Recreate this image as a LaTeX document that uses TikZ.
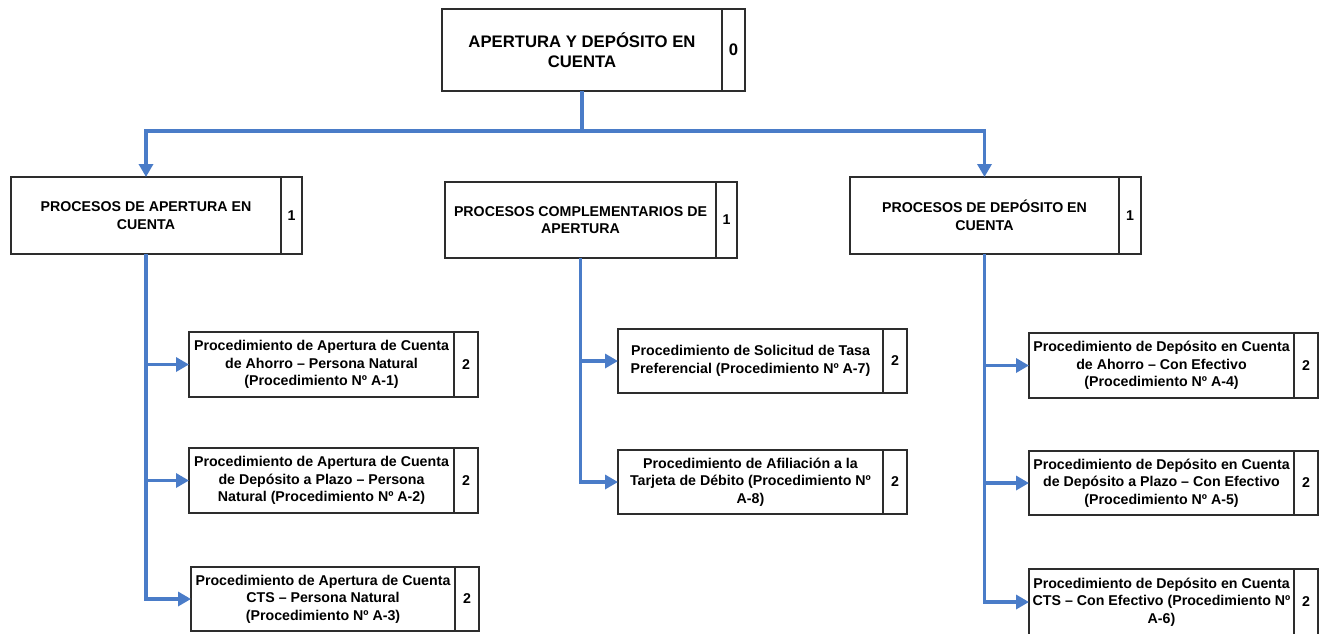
\documentclass[tikz,border=0pt]{standalone}
\usepackage{fontspec}
\setmainfont{Liberation Sans}
\usetikzlibrary{arrows.meta}

\definecolor{flowblue}{RGB}{74,124,200}
\definecolor{boxline}{RGB}{45,45,45}

\tikzset{
  cell/.style={draw=boxline, line width=1.2pt, fill=white, inner sep=0pt, outer sep=0pt,
    align=center, font=\fontsize{14.2}{17.6}\selectfont\bfseries},
  headcell/.style={font=\fontsize{16.7}{19.5}\selectfont\bfseries},
  flow/.style={draw=flowblue, line width=3.8pt, line join=miter,
    -{Triangle[length=13pt,width=14pt]}},
  bus/.style={draw=flowblue, line width=3.8pt}
}

% #1 extra style, #2 name, #3 left, #4 divider, #5 right, #6 top, #7 bottom, #8 text, #9 level
\newcommand\procnode[9][]{%
  \pgfmathsetmacro\pnMain{#4-#3}%
  \pgfmathsetmacro\pnNum{#5-#4}%
  \pgfmathsetmacro\pnH{#7-#6}%
  \pgfmathsetmacro\pnX{(#3+#4)/2}%
  \pgfmathsetmacro\pnY{(#6+#7)/2}%
  \node[cell,#1,minimum width=\pnMain pt,minimum height=\pnH pt] (#2) at (\pnX,\pnY) {#8};
  \node[cell,#1,minimum width=\pnNum pt,minimum height=\pnH pt,anchor=west] (#2-n) at (#2.east) {#9};
}

\begin{document}
\begin{tikzpicture}[x=1pt,y=-1pt]
\useasboundingbox (0,0) rectangle (1325,633);
\fill[white] (0,0) rectangle (1325,633);

% root
\procnode[headcell]{top}{442}{722}{745}{9}{91}{APERTURA Y DEPÓSITO EN\\CUENTA}{0}

% level 1
\procnode{pa}{11}{281}{302}{177}{254}{PROCESOS DE APERTURA EN\\CUENTA}{1}
\procnode{pc}{445}{716}{737}{182}{258}{PROCESOS COMPLEMENTARIOS DE\\APERTURA}{1}
\procnode{pd}{850}{1119}{1141}{177}{254}{PROCESOS DE DEPÓSITO EN\\CUENTA}{1}

% level 2: apertura
\procnode{a1}{189}{454}{478}{332}{397}{Procedimiento de Apertura de Cuenta\\de Ahorro – Persona Natural\\(Procedimiento Nº A-1)}{2}
\procnode{a2}{189}{454}{478}{448}{513}{Procedimiento de Apertura de Cuenta\\de Depósito a Plazo – Persona\\Natural (Procedimiento Nº A-2)}{2}
\procnode{a3}{191}{455}{479}{567}{631}{Procedimiento de Apertura de Cuenta\\CTS – Persona Natural\\(Procedimiento Nº A-3)}{2}

% level 2: complementarios
\procnode{c1}{618}{883}{907}{329}{393}{Procedimiento de Solicitud de Tasa\\Preferencial (Procedimiento Nº A-7)}{2}
\procnode{c2}{618}{883}{907}{450}{514}{Procedimiento de Afiliación a la\\Tarjeta de Débito (Procedimiento Nº\\A-8)}{2}

% level 2: deposito
\procnode{d1}{1029}{1294}{1318}{333}{398}{Procedimiento de Depósito en Cuenta\\de Ahorro – Con Efectivo\\(Procedimiento Nº A-4)}{2}
\procnode{d2}{1029}{1294}{1318}{451}{515}{Procedimiento de Depósito en Cuenta\\de Depósito a Plazo – Con Efectivo\\(Procedimiento Nº A-5)}{2}
\procnode{d3}{1029}{1294}{1318}{569}{635}{Procedimiento de Depósito en Cuenta\\CTS – Con Efectivo (Procedimiento Nº\\A-6)}{2}

% connectors
\coordinate (busy) at (0,131);
\draw[bus] (top.south) -- (top.south |- busy);
\draw[flow] (top.south |- busy) -| (pa.north);
\draw[flow] (top.south |- busy) -| (pd.north);

\foreach \leaf in {a1,a2,a3} \draw[flow] (pa.south) |- (\leaf.west);
\foreach \leaf in {c1,c2} \draw[flow] (pc.south) |- (\leaf.west);
\foreach \leaf in {d1,d2,d3} \draw[flow] (pd.south) |- (\leaf.west);
\end{tikzpicture}
\end{document}
